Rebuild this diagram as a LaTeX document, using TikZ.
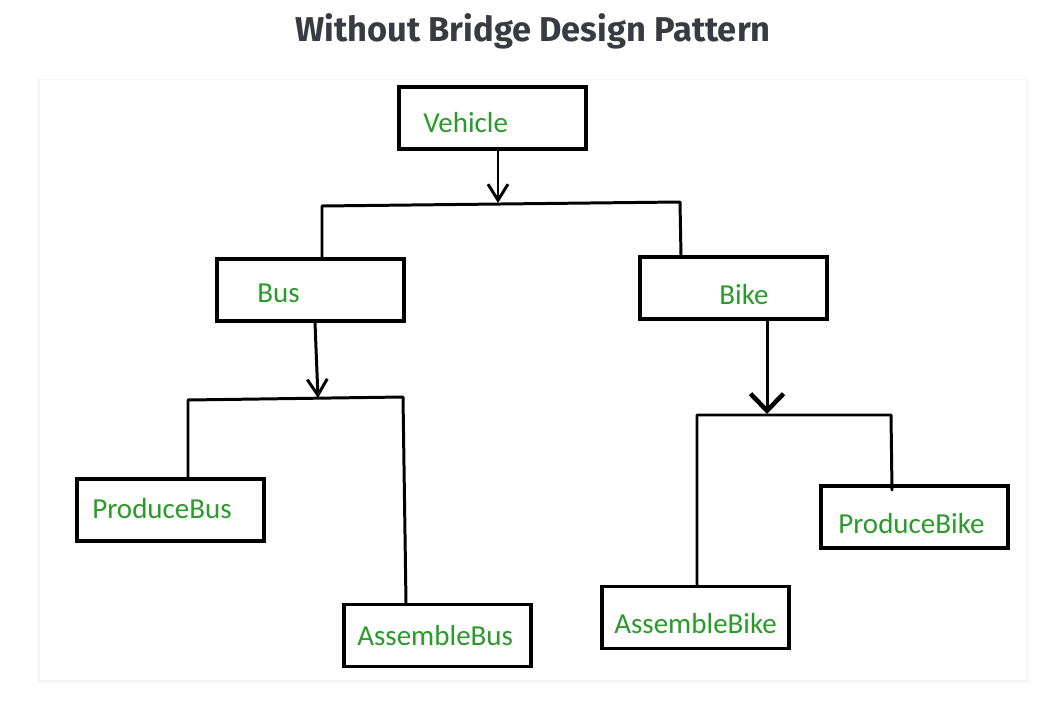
\documentclass[tikz,border=0pt]{standalone}
\usepackage{fontspec}
\setmainfont{Carlito}
\newfontfamily\titlefont{Fira Sans}
\usetikzlibrary{arrows.meta}
\definecolor{labelgreen}{HTML}{2A9A2A}
\definecolor{titlegray}{HTML}{3A3B42}
\tikzset{
  box/.style={draw=black, line width=1.8pt, minimum width=3.74cm, minimum height=1.24cm, inner sep=0pt},
  boxtext/.style={anchor=base west, inner sep=0pt, text=labelgreen, font=\fontsize{16.5}{19}\selectfont},
  link/.style={line width=1.7pt, line cap=round, line join=round},
  arr/.style={link, -{Straight Barb[length=3.2mm, width=4mm]}},
  bigarr/.style={link, -{Straight Barb[length=3.4mm, width=6.6mm, line width=2.6pt]}}
}
\begin{document}
\begin{tikzpicture}[x=0.02cm, y=-0.02cm]
            \useasboundingbox (0,0) rectangle (1052,716);
            % panel
            \fill[black!4] (38,79) rectangle (1028,683);
            \fill[white] (40,80) rectangle (1026,680);
            \node[font=\titlefont\bfseries\fontsize{19.6}{22}\selectfont, text=titlegray] (title) at (533,31) {Without Bridge Design Pattern};
            % boxes
            \node[box] (vehicle) at (492.5,118) {};
            \node[box] (bus) at (310.5,290) {};
            \node[box] (bike) at (733.5,288) {};
            \node[box] (producebus) at (170.5,510) {};
            \node[box] (assemblebus) at (437.5,635.5) {};
            \node[box] (assemblebike) at (695.5,617.5) {};
            \node[box] (producebike) at (914.5,517) {};
            % texts
            \node[boxtext] at (423,133) {Vehicle};
            \node[boxtext] at (257,303) {Bus};
            \node[boxtext] at (719,305) {Bike};
            \node[boxtext] at (92,518) {ProduceBus};
            \node[boxtext] at (357,645) {AssembleBus};
            \node[boxtext] at (614,633) {AssembleBike};
            \node[boxtext] at (838,533) {ProduceBike};
            % joints
            \coordinate (vjoin) at (498,203);
            \coordinate (vleft) at (322,206);
            \coordinate (vright) at (680,202);
            \coordinate (busjoin) at (318,398);
            \coordinate (busleft) at (188,400);
            \coordinate (busright) at (403,397);
            \coordinate (bikejoin) at (767,414);
            \coordinate (bikeleft) at (697,415);
            \coordinate (bikeright) at (891,415);
            % connectors
            \draw[arr] (vehicle.south -| vjoin) -- (vjoin);
            \draw[link] (bus.north -| vleft) -- (vleft) -- (vright) -- (bike.north -| 681,0);
            \draw[arr] (bus.south -| 315,0) -- (busjoin);
            \draw[link] (producebus.north -| busleft) -- (busleft) -- (busright) -- (assemblebus.north -| 406,0);
            \draw[bigarr] (bike.south -| bikejoin) -- (bikejoin);
            \draw[link] (assemblebike.north -| bikeleft) -- (bikeleft) -- (bikeright) -- (892,490);
\end{tikzpicture}
\end{document}
